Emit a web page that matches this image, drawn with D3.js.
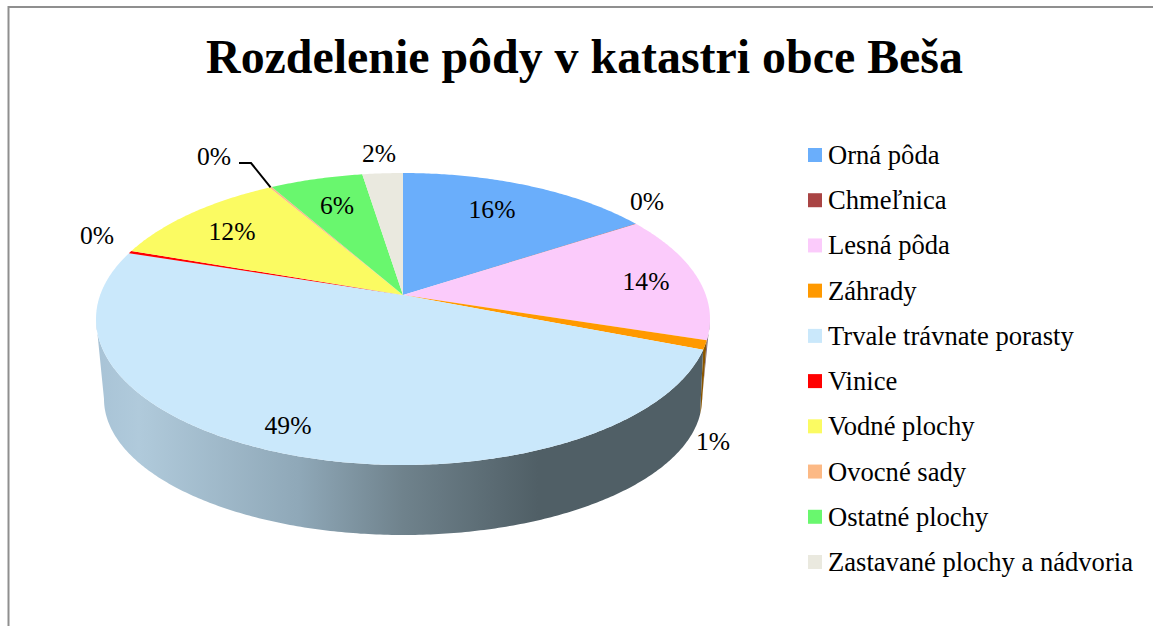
<!DOCTYPE html>
<html>
<head>
<meta charset="utf-8">
<script src="https://cdn.jsdelivr.net/npm/d3@7"></script>
<style>
  body { margin: 0; background: #fff; }
  text { font-family: "Liberation Serif", serif; fill: #000; }
</style>
</head>
<body>
<div id="chart"></div>
<script>
// hodnoty odčítané z grafu
const categories = ["Orná pôda", "Chmeľnica", "Lesná pôda", "Záhrady", "Trvale trávnate porasty",
                    "Vinice", "Vodné plochy", "Ovocné sady", "Ostatné plochy", "Zastavané plochy a nádvoria"];
const shares = [15.8, 0.05, 14.05, 1.0, 49.1, 0.3, 11.3, 0.15, 5.75, 2.5];
const percentLabels = ["16%", "0%", "14%", "1%", "49%", "0%", "12%", "0%", "6%", "2%"];
const colors = ["#6aaefb", "#a94444", "#fbcbfb", "#ff9900", "#cae8fb", "#ff0000", "#fbfb62", "#fcb985", "#69f76e", "#eae9df"];
const wallColors = ["#3f6a99", "#662929", "#806a80", "#8a5600", null, "#990000", "#999930", "#995f30", "#309933", "#8c8b85"];
const labelPos = [[492, 209.5], [647, 201.5], [646, 281.5], [713, 441.5], [288, 425.5], [97, 235.5], [232, 231.5], [214, 156.5], [337, 205.5], [379, 153.5]];

const width = 1153, height = 626;
const svg = d3.select("#chart").append("svg")
    .attr("width", width)
    .attr("height", height);

// rám grafu
svg.append("path")
    .attr("d", `M8.5,${height}V7H${width}`)
    .attr("fill", "none")
    .attr("stroke", "#8f8f8f")
    .attr("stroke-width", 2);

svg.append("text")
    .attr("x", 584.5)
    .attr("y", 73)
    .attr("text-anchor", "middle")
    .attr("font-size", 47.9)
    .attr("font-weight", "bold")
    .text("Rozdelenie pôdy v katastri obce Beša");

// perspektívny kruh: elipsa so stredom (cx, cy), stred koláča je posunutý o k
function disc(cx, cy, rx, ry, k) {
  const R = rx * Math.sqrt(1 - k * k), S = ry * (1 - k * k), ay = cy + k * ry;
  const project = function(a) {
    const u = Math.sin(a), v = -Math.cos(a), w = 1 + k * v;
    return [cx + R * u / w, ay + S * v / w];
  };
  project.apex = [cx, ay];
  // uhly, kde elipsa dosahuje ľavý a pravý okraj
  const t = (cy - ay) / S, vExt = t / (1 - k * t);
  project.right = Math.acos(-vExt);
  project.left = 2 * Math.PI - project.right;
  return project;
}
const top3d = disc(403, 319, 307, 146, -0.1644);
const bottom3d = disc(403, 399, 299, 136, -0.26);

const arcs = d3.pie().sort(null).value(d => d)(shares);

function arcPoints(project, a0, a1) {
  const n = Math.max(2, Math.ceil((a1 - a0) / 0.01));
  return d3.range(n + 1).map(i => project(a0 + (a1 - a0) * i / n));
}
const line = d3.line();

// bočná stena, jas sa mení zľava doprava
const grad = svg.append("defs").append("linearGradient")
    .attr("id", "wall")
    .attr("gradientUnits", "userSpaceOnUse")
    .attr("x1", 96).attr("x2", 710).attr("y1", 0).attr("y2", 0);
[[0, "#a8c3d6"], [0.07, "#b0cadb"], [0.33, "#8fa8b8"], [0.5, "#6f828c"], [0.72, "#505f66"], [1, "#505f66"]]
  .forEach(s => grad.append("stop").attr("offset", s[0]).attr("stop-color", s[1]));

svg.append("g").selectAll("path")
    .data(arcs.filter(d => d.endAngle > top3d.right && d.startAngle < top3d.left))
    .enter().append("path")
    .attr("d", d => {
      const t0 = Math.max(d.startAngle, top3d.right), t1 = Math.min(d.endAngle, top3d.left);
      const b0 = Math.max(d.startAngle, bottom3d.right), b1 = Math.min(d.endAngle, bottom3d.left);
      const pts = arcPoints(top3d, t0, t1);
      if (b1 > b0) pts.push(...arcPoints(bottom3d, b0, b1).reverse());
      return line(pts) + "Z";
    })
    .attr("fill", d => wallColors[d.index] || "url(#wall)");

// vrchné výseky
svg.append("g").selectAll("path")
    .data(arcs)
    .enter().append("path")
    .attr("d", d => line([top3d.apex, ...arcPoints(top3d, d.startAngle, d.endAngle)]) + "Z")
    .attr("fill", d => colors[d.index]);

// odkazová čiara k výseku Ovocné sady
const orchard = arcs[7];
const orchardEnd = top3d((orchard.startAngle + orchard.endAngle) / 2);
svg.append("path")
    .attr("d", line([[239, 163], [251, 163], orchardEnd]))
    .attr("fill", "none")
    .attr("stroke", "#000")
    .attr("stroke-width", 2);

svg.append("g").selectAll("text")
    .data(percentLabels)
    .enter().append("text")
    .attr("x", (d, i) => labelPos[i][0])
    .attr("y", (d, i) => labelPos[i][1])
    .attr("dy", "0.34em")
    .attr("text-anchor", "middle")
    .attr("font-size", 25.6)
    .text(d => d);

// legenda
const legendY = d3.scalePoint().domain(categories).range([155, 562]);
const legend = svg.append("g").selectAll("g")
    .data(categories)
    .enter().append("g")
    .attr("transform", d => `translate(808,${legendY(d)})`);
legend.append("rect")
    .attr("y", -7)
    .attr("width", 14)
    .attr("height", 14)
    .attr("fill", (d, i) => colors[i]);
legend.append("text")
    .attr("x", 20)
    .attr("y", 9)
    .attr("font-size", 26.6)
    .text(d => d);
</script>
</body>
</html>
